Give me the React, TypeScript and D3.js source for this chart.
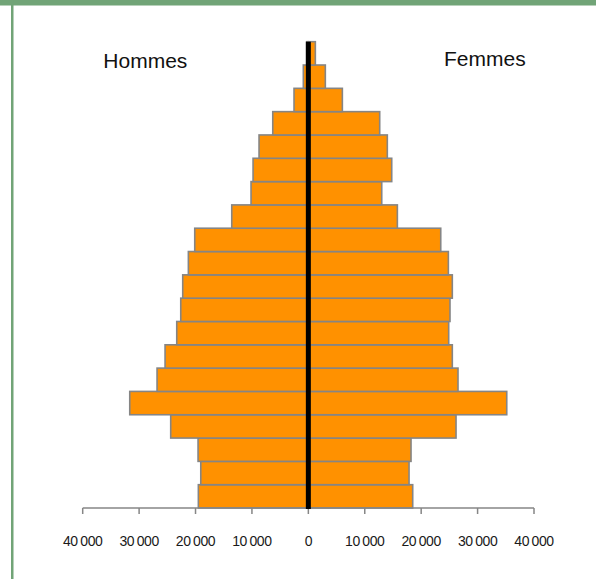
import React from 'react';
import * as d3 from 'd3';

// age groups, bottom to top
const ageGroups = [
  '0-4', '5-9', '10-14', '15-19', '20-24', '25-29', '30-34', '35-39', '40-44', '45-49',
  '50-54', '55-59', '60-64', '65-69', '70-74', '75-79', '80-84', '85-89', '90-94', '95+',
];
const hommes = [
  19500, 19070, 19550, 24400, 31660, 26820, 25400, 23330, 22620, 22270,
  21270, 20140, 13580, 10160, 9800, 8740, 6310, 2540, 890, 300,
];
const femmes = [
  18500, 17850, 18200, 26180, 35170, 26530, 25520, 24880, 25110, 25520,
  24820, 23470, 15780, 13010, 14780, 14000, 12650, 6030, 3010, 1240,
];
const xTicks = [-40000, -30000, -20000, -10000, 0, 10000, 20000, 30000, 40000];

const W = 596;
const H = 579;
const FONT = '"Liberation Sans", Arial, sans-serif';

const fr = d3.formatLocale({ decimal: ',', thousands: ' ', grouping: [3], currency: ['', ''] });
const fmt = fr.format(',d');

export default function App() {
  const x = d3.scaleLinear().domain([-40000, 40000]).range([82.7, 534]);
  const y = d3.scaleBand<string>().domain(ageGroups).range([508, 41.7]).padding(0);
  const x0 = x(0);
  const axisY = 508;

  return (
    <svg
      width={W}
      height={H}
      style={{ position: 'absolute', left: 0, top: 0, background: '#fff' }}
    >
      {/* frame */}
      <rect x={0} y={0} width={W} height={5.5} fill="#71a477" />
      <rect x={11} y={0} width={2.5} height={H} fill="#71a477" />

      {ageGroups.map((g, i) => (
        <g key={g}>
          <rect
            x={x(-hommes[i])}
            y={y(g)}
            width={x0 - x(-hommes[i])}
            height={y.bandwidth()}
            fill="#ff9100"
            stroke="#858585"
            strokeWidth={1.6}
          />
          <rect
            x={x0}
            y={y(g)}
            width={x(femmes[i]) - x0}
            height={y.bandwidth()}
            fill="#ff9100"
            stroke="#858585"
            strokeWidth={1.6}
          />
        </g>
      ))}

      {/* x axis */}
      <line x1={x(-40000)} x2={x(40000)} y1={axisY} y2={axisY} stroke="#868686" strokeWidth={1.5} />
      {xTicks.map((t) => (
        <g key={t}>
          <line x1={x(t)} x2={x(t)} y1={axisY} y2={axisY + 6} stroke="#868686" strokeWidth={1.5} />
          <text
            x={x(t)}
            y={axisY + 38}
            textAnchor="middle"
            fontFamily={FONT}
            fontSize={14}
            letterSpacing={-0.4}
            wordSpacing={-1}
            fill="#1a1a1a"
          >
            {fmt(Math.abs(t))}
          </text>
        </g>
      ))}

      {/* centre line */}
      <line x1={x0} x2={x0} y1={41.7} y2={axisY + 1} stroke="#000" strokeWidth={5} />

      <text x={103.3} y={67.7} fontFamily={FONT} fontSize={21} fill="#111">
        Hommes
      </text>
      <text x={444} y={65.7} fontFamily={FONT} fontSize={21} fill="#111">
        Femmes
      </text>
    </svg>
  );
}
